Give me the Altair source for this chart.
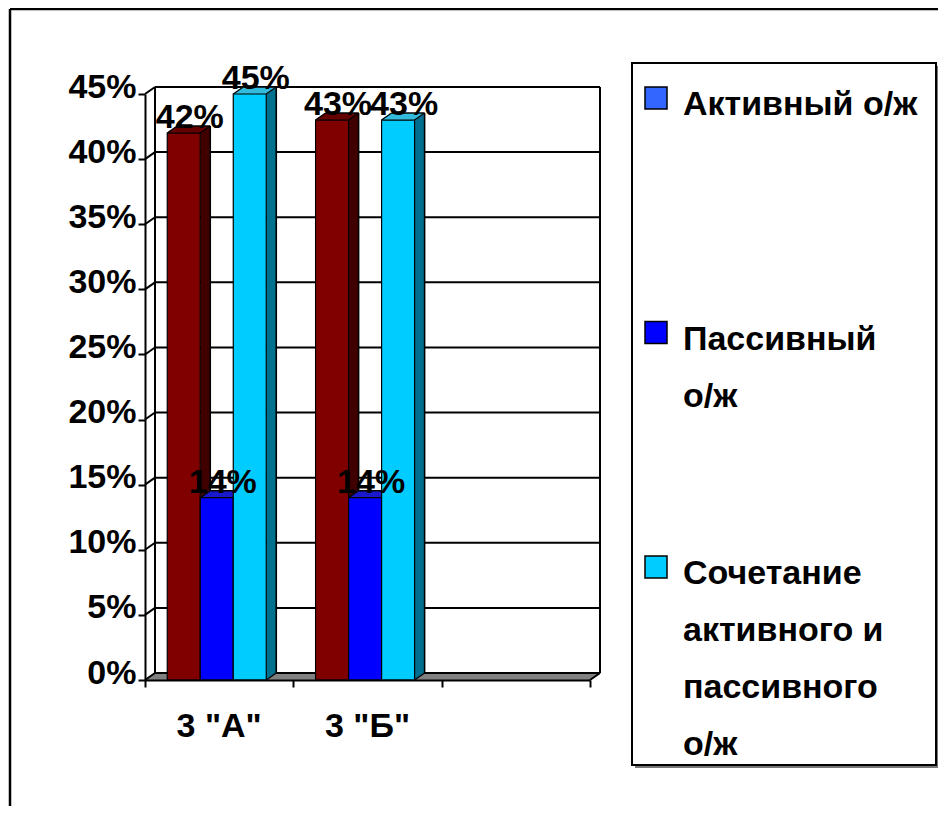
import altair as alt
import pandas as pd

# ---------------- data ----------------
categories = ['3 "А"', '3 "Б"', '']
series = ['Активный о/ж', 'Пассивный о/ж', 'Сочетание активного и пассивного о/ж']
active = [42, 43]
passive = [14, 14]
combined = [45, 43]
legend_lines = ['Активный о/ж', 'Пассивный\nо/ж', 'Сочетание\nактивного и\nпассивного\nо/ж']
y_ticks = [0, 5, 10, 15, 20, 25, 30, 35, 40, 45]

# ---------------- styles ----------------
front_colors = ['#800000', '#0000FF', '#00CCFF']
side_colors = ['#400000', '#000080', '#00708F']
top_colors = ['#660000', '#1A1ACC', '#33BBDD']
legend_colors = ['#3366FF', '#0000FF', '#00CCFF']
FONT = 'Liberation Sans'
FS = 34
BAR_W = 0.2225
GROUP_START = 0.15
DX, DY = 10, -7
W, H = 445, 586

values = [active, passive, combined]
rows = []
for j, s in enumerate(series):
    for i, cat in enumerate(categories[:2]):
        x0 = i + GROUP_START + j * BAR_W
        rows.append(dict(cat=cat, series=s, v=values[j][i], x0=x0, x1=x0 + BAR_W,
                         xc=x0 + BAR_W / 2, label=f"{values[j][i]}%",
                         front=front_colors[j], side=side_colors[j], top=top_colors[j]))
bars = pd.DataFrame(rows)
grid = pd.DataFrame({'v': y_ticks})
cats = pd.DataFrame({'cat': categories, 'xc': [i + 0.5 for i in range(len(categories))]})
one = pd.DataFrame({'a': [0]})
leg = pd.DataFrame({'series': series, 'text': legend_lines, 'color': legend_colors,
                    'idx': list(range(len(series)))})

xs = alt.Scale(domain=[0, 3], nice=False, zero=False)
ys = alt.Scale(domain=[0, 45], nice=False, zero=False)
x_axis = alt.Axis(values=[0, 1, 2, 3], labels=False, ticks=True, tickSize=7, tickColor='black',
                  tickWidth=2, domainColor='black', domainWidth=2, grid=False, title=None, zindex=1)
y_axis = alt.Axis(values=y_ticks, labelExpr="datum.value + '%'", tickSize=7, tickColor='black',
                  tickWidth=2, domainColor='black', domainWidth=2, grid=False, title=None,
                  labelFont=FONT, labelFontSize=FS, labelFontWeight='bold', labelColor='black',
                  labelPadding=2, labelOffset=-7, zindex=1)


def X(f):
    return alt.X(f, type='quantitative', scale=xs, axis=x_axis, title=None) if isinstance(f, str) else alt.X(datum=f, type='quantitative', scale=xs, axis=x_axis, title=None)


def Y(f):
    return alt.Y(f, type='quantitative', scale=ys, axis=y_axis, title=None) if isinstance(f, str) else alt.Y(datum=f, type='quantitative', scale=ys, axis=y_axis, title=None)


layers = []
base_one = alt.Chart(one)

# floor fill
for k in range(0, 11):
    layers.append(base_one.mark_rule(color='#808080', strokeWidth=1.6, xOffset=k, x2Offset=k,
                                     yOffset=DY * k / 10).encode(
        x=X(0), x2=alt.X2(datum=3), y=Y(0)))

# back wall gridlines
layers.append(alt.Chart(grid).mark_rule(color='black', strokeWidth=2, xOffset=DX, x2Offset=DX,
                                        yOffset=DY).encode(x=X(0), x2=alt.X2(datum=3), y=Y('v')))
# left diagonals
layers.append(alt.Chart(grid).mark_rule(color='black', strokeWidth=2, x2Offset=DX, y2Offset=DY).encode(
    x=X(0), x2=alt.X2(datum=0), y=Y('v'), y2=alt.Y2('v')))
# back wall verticals
for xv in (0, 3):
    layers.append(base_one.mark_rule(color='black', strokeWidth=2, xOffset=DX, yOffset=DY,
                                     y2Offset=DY).encode(x=X(xv), y=Y(0), y2=alt.Y2(datum=45)))
# floor right diagonal
layers.append(base_one.mark_rule(color='black', strokeWidth=2, x2Offset=DX, y2Offset=DY).encode(
    x=X(3), x2=alt.X2(datum=3), y=Y(0), y2=alt.Y2(datum=0)))

bb = alt.Chart(bars)
# side faces
for k in range(1, 11):
    col = alt.value('black') if k == 10 else alt.Color('side:N', scale=None)
    layers.append(bb.mark_rule(strokeWidth=1.6, xOffset=k, yOffset=DY * k / 10,
                               y2Offset=DY * k / 10).encode(
        x=X('x1'), y=Y('v'), y2=alt.Y2(datum=0), color=col))
# top faces
for k in range(1, 11):
    col = alt.value('black') if k == 10 else alt.Color('top:N', scale=None)
    layers.append(bb.mark_rule(strokeWidth=1.6, xOffset=k, x2Offset=k,
                               yOffset=DY * k / 10).encode(
        x=X('x0'), x2=alt.X2('x1'), y=Y('v'), color=col))
# diagonals
for f in ('x0', 'x1'):
    layers.append(bb.mark_rule(color='black', strokeWidth=1.2, x2Offset=DX, y2Offset=DY).encode(
        x=X(f), x2=alt.X2(f), y=Y('v'), y2=alt.Y2('v')))
layers.append(bb.mark_rule(color='black', strokeWidth=1.2, x2Offset=DX, y2Offset=DY).encode(
    x=X('x1'), x2=alt.X2('x1'), y=Y(0), y2=alt.Y2(datum=0)))
# fronts
layers.append(bb.mark_rect(stroke='black', strokeWidth=1.2).encode(
    x=X('x0'), x2=alt.X2('x1'), y=Y('v'), y2=alt.Y2(datum=0),
    fill=alt.Fill('front:N', scale=None)))
# value labels
layers.append(bb.mark_text(font=FONT, fontSize=FS, fontWeight='bold', color='black',
                           baseline='alphabetic', align='center', dx=6, dy=-5).encode(
    x=X('xc'), y=Y('v'), text='label:N'))
# category labels
layers.append(alt.Chart(cats).mark_text(font=FONT, fontSize=FS, fontWeight='bold', color='black',
                                        baseline='middle', align='center', dy=47).encode(
    x=X('xc'), y=Y(0), text='cat:N'))

main = alt.layer(*layers)

# ---------------- frame + legend ----------------
frame_v = base_one.mark_rule(color='black', strokeWidth=2.5).encode(
    x=alt.value(-135), y=alt.value(-85), y2=alt.value(712))
frame_h = base_one.mark_rule(color='black', strokeWidth=2.5).encode(
    x=alt.value(-135), x2=alt.value(793), y=alt.value(-85))
leg_shadow = base_one.mark_rect(fill='#777777').encode(
    x=alt.value(490), x2=alt.value(794), y=alt.value(-28), y2=alt.value(674))
leg_box = base_one.mark_rect(fill='white', stroke='black', strokeWidth=2).encode(
    x=alt.value(487), x2=alt.value(791), y=alt.value(-31), y2=alt.value(671))
ly = alt.Y('idx:Q', scale=alt.Scale(domain=[0, 2], range=[4, 473]), axis=None)
leg_sq = alt.Chart(leg).mark_square(size=484, stroke='black', strokeWidth=1.5, opacity=1).encode(
    x=alt.value(511), y=ly, fill=alt.Fill('color:N', scale=None))
leg_tx = alt.Chart(leg).mark_text(font=FONT, fontSize=FS, fontWeight='bold', color='black',
                                  align='left', baseline='alphabetic', dy=17, lineBreak='\n',
                                  lineHeight=57).encode(
    x=alt.value(538), y=ly, text='text:N')

legend = alt.layer(frame_v, frame_h, leg_shadow, leg_box, leg_sq, leg_tx)

chart = alt.layer(main, legend).resolve_scale(x='independent', y='independent').properties(
    width=W, height=H,
    autosize=alt.AutoSizeParams(type='none'),
    padding={'left': 137, 'top': 86, 'right': 348, 'bottom': 126},
    background='white',
).configure_view(stroke=None)

chart.save("out.html", embed_options={"renderer": "svg", "actions": False})
